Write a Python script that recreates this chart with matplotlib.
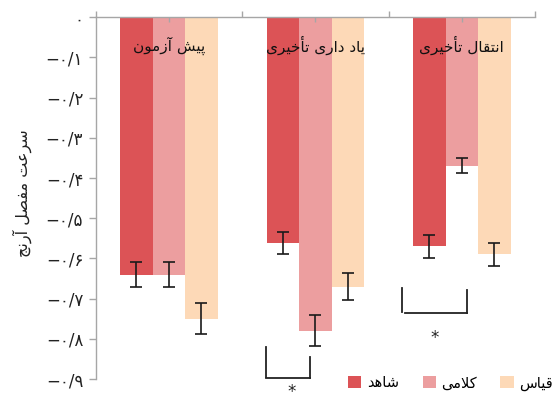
import matplotlib
matplotlib.use('Agg')
import matplotlib.pyplot as plt
import numpy as np
from matplotlib.patches import Patch

plt.rcParams['font.family'] = ['DejaVu Sans']

# ---------------- data ----------------
categories = ['پیش آزمون', 'یاد داری تأخیری', 'انتقال تأخیری']
series_names = ['شاهد', 'کلامی', 'قیاس']
control = [-0.640, -0.561, -0.570]
verbal = [-0.640, -0.780, -0.369]
analog = [-0.750, -0.670, -0.590]
control_err = [0.032, 0.028, 0.028]
verbal_err = [0.032, 0.039, 0.018]
analog_err = [0.038, 0.034, 0.029]
ytick_values = [0.0, -0.1, -0.2, -0.3, -0.4, -0.5, -0.6, -0.7, -0.8, -0.9]
ytick_labels = ['۰', '−۰/۱', '−۰/۲', '−۰/۳', '−۰/۴', '−۰/۵', '−۰/۶', '−۰/۷', '−۰/۸', '−۰/۹']
ylabel = 'سرعت مفصل آرنج'

# ---------------- simple Persian shaper ----------------
DUAL = {
    'پ': ('\uFB56', '\uFB57', '\uFB58', '\uFB59'),
    'ت': ('\uFE95', '\uFE96', '\uFE97', '\uFE98'),
    'ج': ('\uFE9D', '\uFE9E', '\uFE9F', '\uFEA0'),
    'خ': ('\uFEA5', '\uFEA6', '\uFEA7', '\uFEA8'),
    'س': ('\uFEB1', '\uFEB2', '\uFEB3', '\uFEB4'),
    'ش': ('\uFEB5', '\uFEB6', '\uFEB7', '\uFEB8'),
    'ص': ('\uFEB9', '\uFEBA', '\uFEBB', '\uFEBC'),
    'ع': ('\uFEC9', '\uFECA', '\uFECB', '\uFECC'),
    'ف': ('\uFED1', '\uFED2', '\uFED3', '\uFED4'),
    'ق': ('\uFED5', '\uFED6', '\uFED7', '\uFED8'),
    'ک': ('\uFB8E', '\uFB8F', '\uFB90', '\uFB91'),
    'ل': ('\uFEDD', '\uFEDE', '\uFEDF', '\uFEE0'),
    'م': ('\uFEE1', '\uFEE2', '\uFEE3', '\uFEE4'),
    'ن': ('\uFEE5', '\uFEE6', '\uFEE7', '\uFEE8'),
    'ه': ('\uFEE9', '\uFEEA', '\uFEEB', '\uFEEC'),
    'ی': ('\uFBFC', '\uFBFD', '\uFBFE', '\uFBFF'),
}
RIGHT = {
    'ا': ('\uFE8D', '\uFE8E'),
    'آ': ('\uFE81', '\uFE82'),
    'أ': ('\uFE83', '\uFE84'),
    'د': ('\uFEA9', '\uFEAA'),
    'ر': ('\uFEAD', '\uFEAE'),
    'ز': ('\uFEAF', '\uFEB0'),
    'و': ('\uFEED', '\uFEEE'),
}
LAMALEF = {'ا': ('\uFEFB', '\uFEFC'), 'آ': ('\uFEF5', '\uFEF6'), 'أ': ('\uFEF7', '\uFEF8')}


def shape(s):
    s = s.replace('\u064A', '\u06CC').replace('\u0643', '\u06A9')
    units = []
    i = 0
    while i < len(s):
        c = s[i]
        if c == 'ل' and i + 1 < len(s) and s[i + 1] in LAMALEF:
            units.append(('LA', s[i + 1]))
            i += 2
        else:
            units.append(('C', c))
            i += 1

    def is_letter(u):
        return u[0] == 'LA' or u[1] in DUAL or u[1] in RIGHT

    def joins_fwd(u):
        return u[0] == 'C' and u[1] in DUAL

    out = []
    for k, u in enumerate(units):
        prev = units[k - 1] if k > 0 else None
        nxt = units[k + 1] if k + 1 < len(units) else None
        jp = prev is not None and joins_fwd(prev) and is_letter(u)
        jn = joins_fwd(u) and nxt is not None and is_letter(nxt)
        if u[0] == 'LA':
            out.append(LAMALEF[u[1]][1 if jp else 0])
        elif u[1] in DUAL:
            f = DUAL[u[1]]
            out.append(f[3] if (jp and jn) else f[1] if jp else f[2] if jn else f[0])
        elif u[1] in RIGHT:
            out.append(RIGHT[u[1]][1 if jp else 0])
        else:
            out.append(u[1])
    return ''.join(reversed(out))


# ---------------- figure ----------------
colors = ['#DC5356', '#EC9E9F', '#FDD9B7']
spine_col = '#A6A6A6'

fig = plt.figure(figsize=(5.55, 4.01), dpi=100)
W, H = 555, 401
ax = fig.add_axes([95.7 / W, 1 - 379 / H, (535 - 95.7) / W, (379 - 17.3) / H])
ax.set_xlim(0, 3)
ax.set_ylim(-0.9, 0)

x = np.arange(len(categories)) + 0.5
bw = 0.222
all_vals = [control, verbal, analog]
all_errs = [control_err, verbal_err, analog_err]
for j, (vals, errs) in enumerate(zip(all_vals, all_errs)):
    xs = x + (j - 1) * bw
    ax.bar(xs, vals, width=bw, color=colors[j], zorder=1, linewidth=0)
    ax.errorbar(xs, vals, yerr=errs, fmt='none', ecolor='#1A1A1A',
                elinewidth=1.2, capsize=4.6, capthick=1.2, zorder=3)

for xc, cat in zip(x, categories):
    ax.text(xc, -0.071, shape(cat), ha='center', va='center', fontsize=11,
            color='#111111', zorder=4)

# spines / ticks
for side in ['bottom', 'right']:
    ax.spines[side].set_visible(False)
for side in ['top', 'left']:
    ax.spines[side].set_color(spine_col)
    ax.spines[side].set_linewidth(1.0)

ax.xaxis.tick_top()
ax.set_xticks([0, 1, 2, 3])
ax.set_xticks(x, minor=True)
ax.tick_params(axis='x', which='major', direction='out', length=4.4, color=spine_col,
               labeltop=False, labelbottom=False, width=1.0)
ax.tick_params(axis='x', which='minor', direction='in', length=3.6, color=spine_col,
               labeltop=False, labelbottom=False, width=1.0)

ax.set_yticks(ytick_values)
ax.set_yticklabels(ytick_labels)
ax.tick_params(axis='y', direction='out', length=5, color=spine_col, width=1.0,
               labelsize=12, labelcolor='#222222', pad=4)

fig.text(22 / W, 1 - 193 / H, shape(ylabel), rotation=90, ha='center', va='center',
         fontsize=11.5, color='#222222')

# significance brackets
line_kw = dict(color='#222222', lw=1.3, clip_on=False, zorder=5)
ax.plot([1.164, 1.164], [-0.820, -0.894], **line_kw)
ax.plot([1.164, 1.466], [-0.897, -0.897], **line_kw)
ax.plot([1.466, 1.466], [-0.845, -0.897], **line_kw)
fig.text(291.7 / W, 0.0, '*', ha='center', va='bottom', fontsize=12, color='#222222')

ax.plot([2.094, 2.094], [-0.673, -0.733], **line_kw)
ax.plot([2.113, 2.536], [-0.737, -0.737], **line_kw)
ax.plot([2.536, 2.536], [-0.679, -0.737], **line_kw)
ax.text(2.313, -0.797, '*', ha='center', va='center', fontsize=12, color='#222222')

# legend
handles = [Patch(facecolor=c, edgecolor='none') for c in colors]
fig.legend(handles, [shape(s) for s in series_names], loc='center right',
           bbox_to_anchor=(553 / W, 1 - 383 / H), ncol=3, frameon=False,
           fontsize=10.5, handlelength=0.9, handleheight=0.9, handletextpad=0.4,
           columnspacing=1.6, borderpad=0, borderaxespad=0)

fig.savefig('out.png', dpi=100)
